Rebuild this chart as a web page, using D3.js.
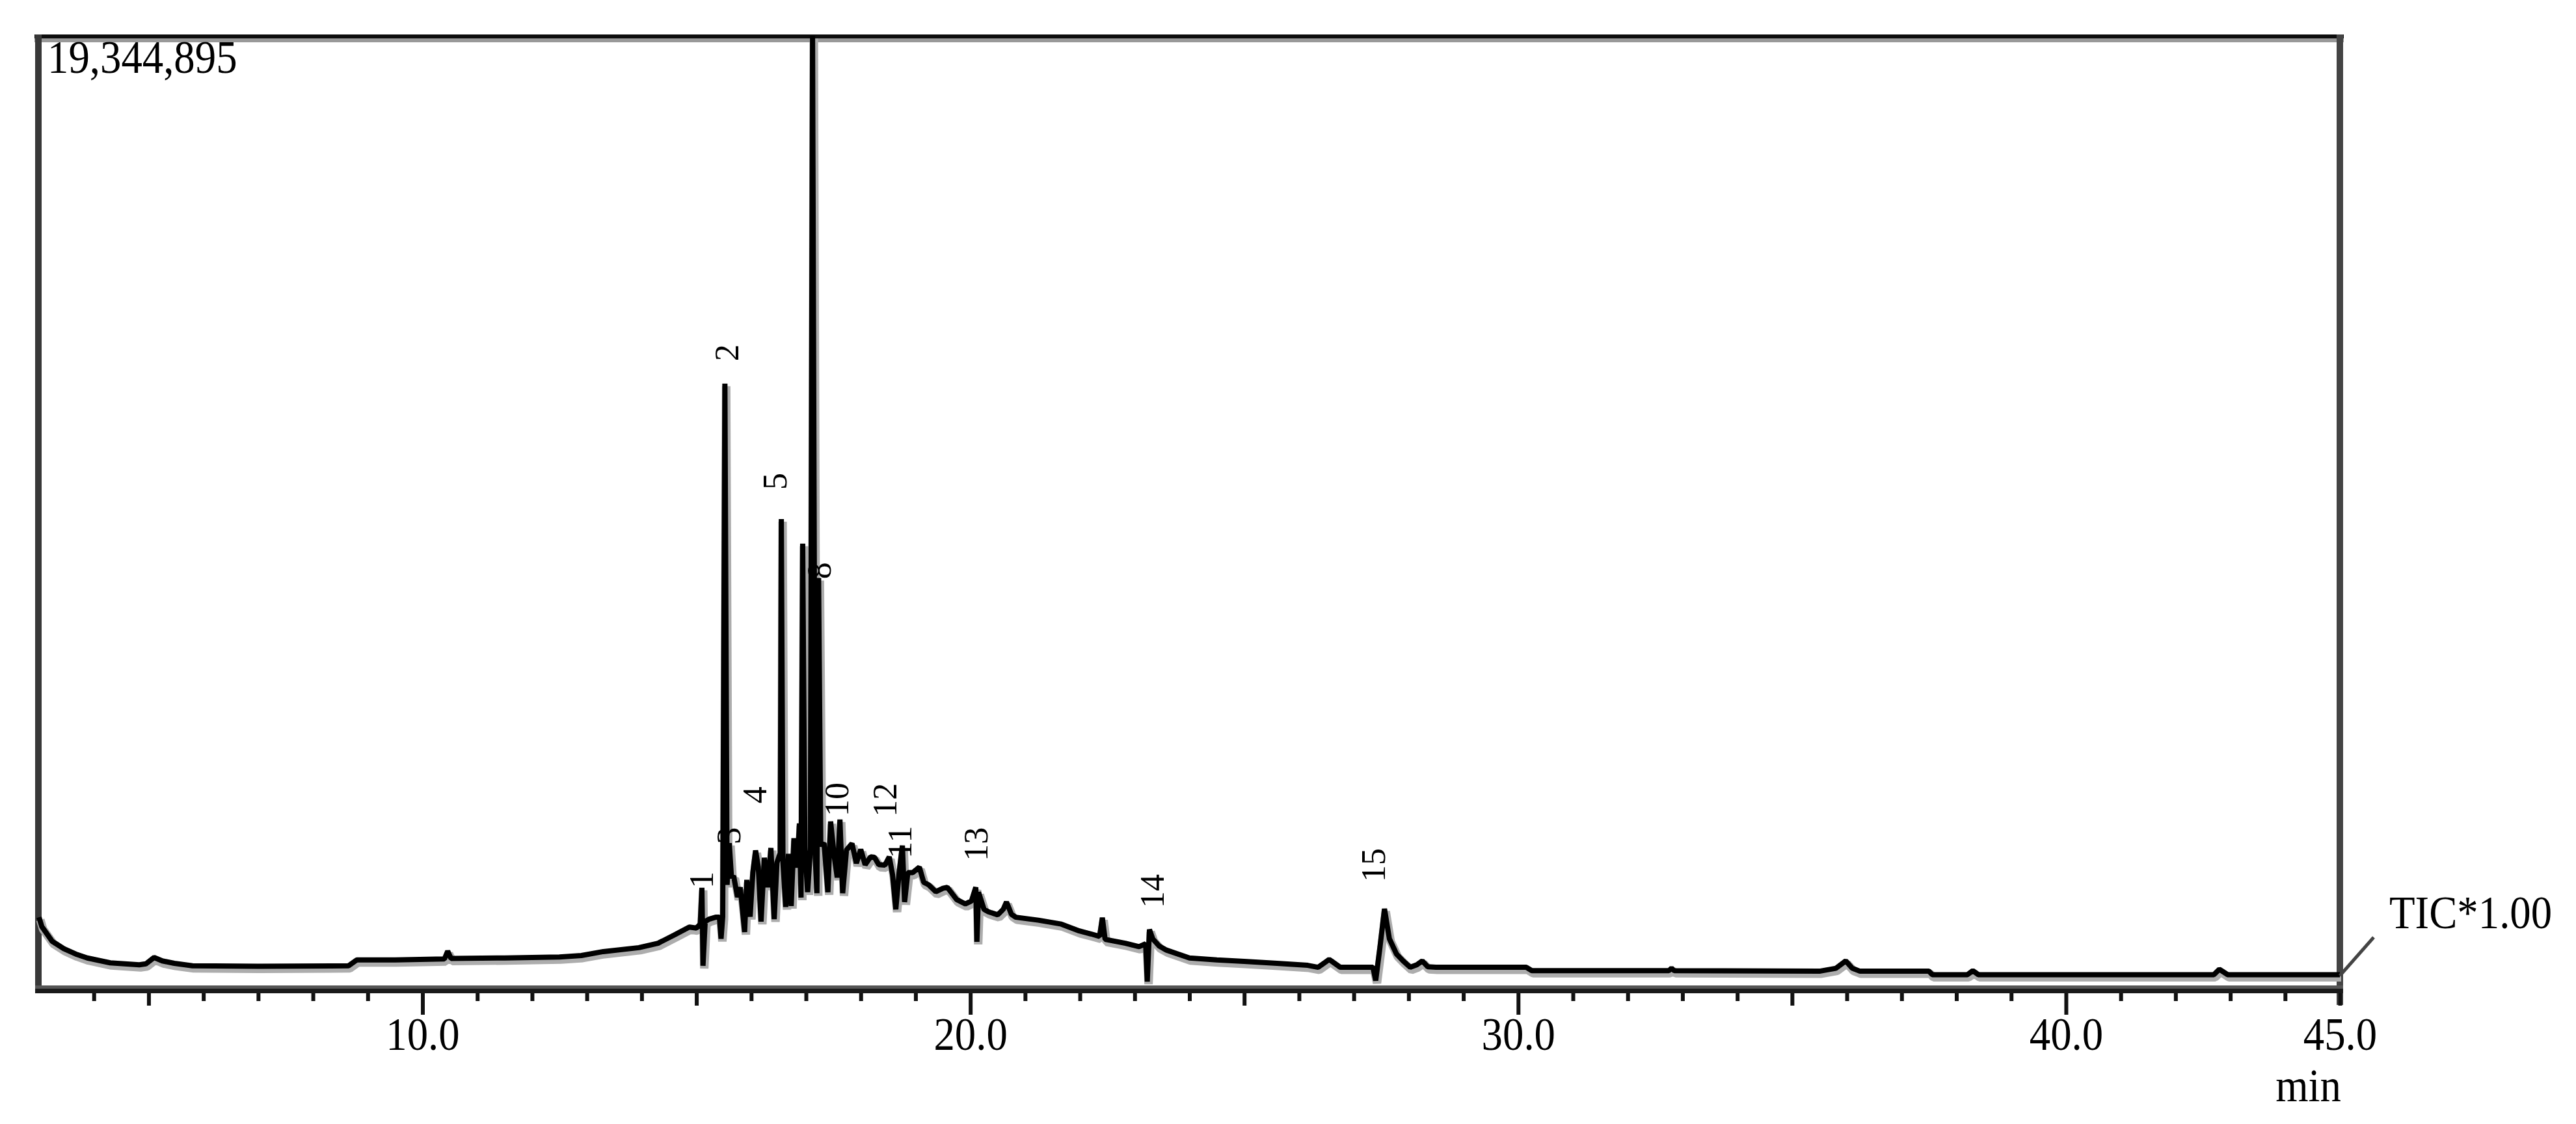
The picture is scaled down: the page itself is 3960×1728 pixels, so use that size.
<!DOCTYPE html>
<html>
<head>
<meta charset="utf-8">
<script src="https://cdn.jsdelivr.net/npm/d3@7"></script>
<style>
  html, body { margin: 0; padding: 0; background: #fff; }
  svg { display: block; }
  text { font-family: "Liberation Serif", "DejaVu Serif", serif; fill: #000; }
</style>
</head>
<body>
<svg id="chart" width="3960" height="1728"></svg>
<script>
// ---- data (retention time in min, TIC intensity in millions of counts) ----
const retentionTimes = [
  3.00, 3.05, 3.24, 3.45, 3.67, 3.88, 4.30, 4.83, 4.95, 5.10, 5.25, 5.47, 5.80, 7.00, 8.65, 8.80,
  9.50, 10.40, 10.46, 10.52, 11.50, 12.50, 12.90, 13.30, 13.95, 14.30, 14.60, 14.87, 15.00, 15.07,
  15.10, 15.12, 15.16, 15.23, 15.35, 15.42, 15.45, 15.48, 15.52, 15.56, 15.60, 15.64, 15.68, 15.75,
  15.80, 15.88, 15.92, 15.98, 16.03, 16.08, 16.13, 16.18, 16.24, 16.30, 16.36, 16.42, 16.47, 16.53,
  16.55, 16.58, 16.63, 16.68, 16.73, 16.78, 16.84, 16.88, 16.91, 16.94, 16.98, 17.03, 17.08, 17.12,
  17.17, 17.20, 17.23, 17.27, 17.33, 17.40, 17.45, 17.51, 17.57, 17.62, 17.67, 17.74, 17.84, 17.92,
  18.00, 18.08, 18.18, 18.25, 18.33, 18.44, 18.52, 18.58, 18.64, 18.70, 18.76, 18.80, 18.86, 18.95,
  19.07, 19.15, 19.24, 19.37, 19.50, 19.58, 19.75, 19.91, 20.02, 20.10, 20.12, 20.15, 20.25, 20.33,
  20.50, 20.60, 20.66, 20.75, 20.83, 21.24, 21.66, 21.99, 22.20, 22.36, 22.41, 22.46, 22.83, 23.08,
  23.20, 23.23, 23.27, 23.33, 23.45, 23.58, 24.00, 24.50, 25.00, 25.60, 26.16, 26.35, 26.55, 26.75,
  27.35, 27.40, 27.48, 27.56, 27.65, 27.78, 27.90, 28.03, 28.15, 28.25, 28.35, 28.50, 30.15, 30.25,
  32.75, 32.80, 32.85, 35.50, 35.80, 35.98, 36.10, 36.24, 37.50, 37.56, 38.20, 38.30, 38.40, 42.70,
  42.80, 42.95, 45.00
];
const ticIntensity = [
  1.39, 1.20, 0.90, 0.75, 0.64, 0.56, 0.46, 0.42, 0.44, 0.57, 0.50, 0.45, 0.40, 0.39, 0.40, 0.52,
  0.52, 0.54, 0.70, 0.55, 0.56, 0.58, 0.61, 0.69, 0.77, 0.86, 1.03, 1.19, 1.17, 1.25,
  1.99, 0.40, 1.30, 1.35, 1.39, 1.39, 0.95, 1.40, 12.26, 2.05, 2.90, 2.20, 2.23, 1.80,
  2.00, 1.09, 2.15, 1.40, 2.30, 2.75, 2.41, 1.30, 2.60, 2.00, 2.80, 1.35, 2.50, 2.70,
  9.50, 2.50, 1.60, 2.68, 1.62, 3.00, 2.40, 3.30, 1.79, 9.00, 2.80, 1.90, 2.76, 19.34,
  2.60, 1.88, 8.30, 2.85, 2.90, 1.90, 3.34, 2.68, 2.20, 3.38, 1.88, 2.76, 2.89, 2.49,
  2.77, 2.46, 2.62, 2.61, 2.46, 2.45, 2.62, 2.26, 1.55, 2.30, 2.85, 1.70, 2.30, 2.30,
  2.41, 2.10, 2.05, 1.91, 1.98, 2.00, 1.75, 1.66, 1.72, 2.00, 0.89, 1.90, 1.55, 1.50,
  1.44, 1.55, 1.70, 1.45, 1.39, 1.33, 1.25, 1.11, 1.05, 1.00, 1.38, 0.94, 0.86, 0.79,
  0.85, 0.08, 1.14, 0.95, 0.80, 0.72, 0.56, 0.52, 0.49, 0.45, 0.41, 0.37, 0.53, 0.37,
  0.37, 0.10, 0.80, 1.56, 0.95, 0.64, 0.50, 0.37, 0.42, 0.50, 0.38, 0.37, 0.37, 0.30,
  0.30, 0.35, 0.30, 0.29, 0.35, 0.50, 0.35, 0.29, 0.29, 0.22, 0.22, 0.30, 0.22, 0.22,
  0.33, 0.22, 0.22
];
// peak numbers with the retention time / intensity at which each label sits
const peakNumbers     = ["1", "2", "3", "4", "5", "8", "10", "11", "12", "13", "14", "15"];
const peakLabelTimes  = [15.09, 15.55, 15.58, 16.06, 16.43, 17.23, 17.55, 18.71, 18.44, 20.10, 23.31, 27.35];
const peakLabelLevels = [2.15, 12.89, 3.05, 3.88, 10.27, 8.45, 3.79, 2.92, 3.78, 2.88, 1.92, 2.45];

const xDomain = [3.0, 45.0];
const yMaxCounts = 19344895;
const minorTicks = d3.range(4, 45, 1);
const mediumTicks = [5, 15, 25, 35, 45];
const majorTicks = [10, 20, 30, 40];
const tickLabels = [10, 20, 30, 40, 45];
const scaleLabel = "19,344,895";
const traceLabel = "TIC*1.00";
const unitLabel = "min";

// ---- layout ----
const svg = d3.select("#chart");
const L = 60, R = 3597, T = 55, B = 1515;
const x = d3.scaleLinear().domain(xDomain).range([L, R]);
const y = d3.scaleLinear().domain([0, yMaxCounts / 1e6]).range([B, T]);

svg.append("rect").attr("width", 3960).attr("height", 1728).attr("fill", "#fff");

// frame
svg.append("line").attr("x1", 53).attr("x2", 3603).attr("y1", 62).attr("y2", 62)
  .attr("stroke", "#999").attr("stroke-width", 6);
svg.append("line").attr("x1", 53).attr("x2", 3603).attr("y1", 56).attr("y2", 56)
  .attr("stroke", "#0d0d0d").attr("stroke-width", 6);
svg.append("line").attr("x1", 59).attr("x2", 59).attr("y1", 53).attr("y2", 1527)
  .attr("stroke", "#383838").attr("stroke-width", 10);
svg.append("line").attr("x1", 3597).attr("x2", 3597).attr("y1", 53).attr("y2", 1545)
  .attr("stroke", "#444").attr("stroke-width", 10);

// signal
const line = d3.line().x((d, i) => x(retentionTimes[i])).y(d => y(d));
svg.append("path").datum(ticIntensity)
  .attr("d", line).attr("fill", "none")
  .attr("stroke", "#adadad").attr("stroke-width", 13).attr("stroke-linejoin", "bevel")
  .attr("transform", "translate(2,4)");
svg.append("path").datum(ticIntensity)
  .attr("d", line).attr("fill", "none")
  .attr("stroke", "#000").attr("stroke-width", 8).attr("stroke-linejoin", "bevel");

// bottom axis band
svg.append("line").attr("x1", 54).attr("x2", 3602).attr("y1", 1517.5).attr("y2", 1517.5)
  .attr("stroke", "#555").attr("stroke-width", 5);
svg.append("line").attr("x1", 54).attr("x2", 3602).attr("y1", 1523.5).attr("y2", 1523.5)
  .attr("stroke", "#1a1a1a").attr("stroke-width", 7);

function tickAxis(values, size) {
  const g = svg.append("g").attr("transform", `translate(0,1527)`)
    .call(d3.axisBottom(x).tickValues(values).tickSize(size).tickFormat(""));
  g.select(".domain").remove();
  g.selectAll(".tick line").attr("stroke", "#111").attr("stroke-width", 6);
  return g;
}
tickAxis(minorTicks.filter(v => !mediumTicks.includes(v) && !majorTicks.includes(v)), 12);
tickAxis(mediumTicks, 19);
tickAxis(majorTicks, 33);

const labelAxis = svg.append("g").attr("transform", "translate(0,1527)")
  .call(d3.axisBottom(x).tickValues(tickLabels).tickSize(0).tickPadding(36)
    .tickFormat(d3.format(".1f")));
labelAxis.select(".domain").remove();
labelAxis.selectAll("text")
  .attr("font-family", "Liberation Serif, serif")
  .attr("font-size", 72).attr("fill", "#000")
  .attr("transform", "scale(0.9,1)");

// texts
function squishText(tx, ty, str, anchor) {
  svg.append("g").attr("transform", `translate(${tx},${ty}) scale(0.9,1)`)
    .append("text").attr("text-anchor", anchor).attr("font-size", 72).text(str);
}
squishText(73, 112, scaleLabel, "start");
squishText(3673, 1427, traceLabel, "start");
squishText(3599, 1693, unitLabel, "end");

// TIC connector
svg.append("line").attr("x1", 3597).attr("y1", 1500).attr("x2", 3649).attr("y2", 1441)
  .attr("stroke", "#444").attr("stroke-width", 5);

// peak labels (rotated)
peakNumbers.forEach((n, i) => {
  svg.append("g")
    .attr("transform", `translate(${x(peakLabelTimes[i])},${y(peakLabelLevels[i])}) rotate(-90)`)
    .append("text").attr("text-anchor", "middle").attr("dy", "0.35em")
    .attr("font-size", 52).text(n);
});
</script>
</body>
</html>
